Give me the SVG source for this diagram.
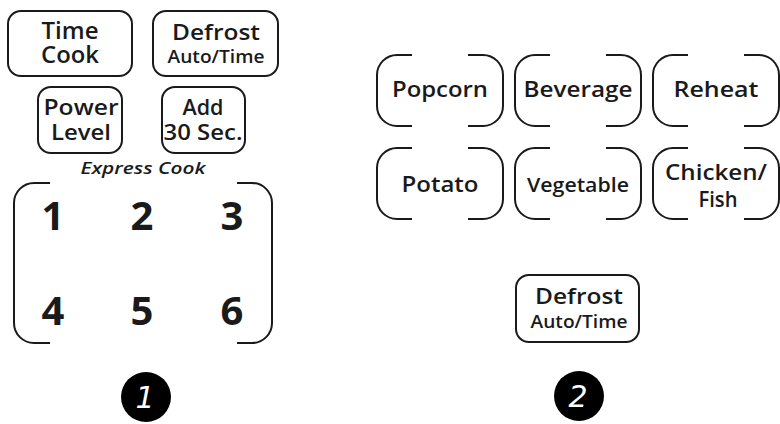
<svg xmlns="http://www.w3.org/2000/svg" xmlns:xlink="http://www.w3.org/1999/xlink" width="780" height="424" viewBox="0 0 780 424">
<style>
.b{fill:none;stroke:#1a1a1a;stroke-width:2;}
.t{font-family:"Open Sans","Noto Sans","DejaVu Sans",sans-serif;font-weight:600;fill:#1a1a1a;text-anchor:middle;}
.n{font-family:"Open Sans","Noto Sans","DejaVu Sans",sans-serif;font-weight:700;font-size:40px;fill:#1a1a1a;text-anchor:middle;}
.c{fill:#000;}
.w{font-family:"DejaVu Sans","Noto Sans",sans-serif;font-style:italic;font-size:30px;fill:#fff;text-anchor:middle;}
</style>
<defs>
<path id="br" class="b" d="M35,0 H20 A20,20 0 0 0 0,20 V51 A20,20 0 0 0 20,71 H35 M91,0 H106 A20,20 0 0 1 126,20 V51 A20,20 0 0 1 106,71 H91"/>
</defs>
<rect width="780" height="424" fill="#fff"/>
<g id="time-cook"><rect class="b" x="8" y="11" width="124" height="65" rx="13"/>
<text class="t" x="70" y="39" font-size="23" textLength="57" lengthAdjust="spacingAndGlyphs">Time</text><text class="t" x="70" y="63" font-size="23" textLength="58" lengthAdjust="spacingAndGlyphs">Cook</text></g>
<g id="defrost-1"><rect class="b" x="153" y="11" width="125" height="65" rx="13"/>
<text class="t" x="216" y="40" font-size="22" textLength="88" lengthAdjust="spacingAndGlyphs">Defrost</text><text class="t" x="216" y="63" font-size="18" textLength="97" lengthAdjust="spacingAndGlyphs">Auto/Time</text></g>
<g id="power-level"><rect class="b" x="38" y="87" width="84" height="66" rx="13"/>
<text class="t" x="81" y="115" font-size="21" textLength="75" lengthAdjust="spacingAndGlyphs">Power</text><text class="t" x="81" y="140" font-size="21" textLength="60" lengthAdjust="spacingAndGlyphs">Level</text></g>
<g id="add-30"><rect class="b" x="162" y="87" width="83" height="66" rx="13"/>
<text class="t" x="203" y="115" font-size="21" textLength="41" lengthAdjust="spacingAndGlyphs">Add</text><text class="t" x="203" y="140" font-size="21" textLength="79" lengthAdjust="spacingAndGlyphs">30 Sec.</text></g>
<g id="express-cook"><text class="t" x="143" y="174" font-size="17" font-style="italic" font-weight="500" textLength="125" lengthAdjust="spacingAndGlyphs">Express Cook</text>
<path class="b" d="M50,183 H34 A20,20 0 0 0 14,203 V323 A20,20 0 0 0 34,343 H50 M237,183 H252 A20,20 0 0 1 272,203 V323 A20,20 0 0 1 252,343 H237"/>
<text class="n" x="53" y="230">1</text><text class="n" x="142" y="230">2</text><text class="n" x="232" y="230">3</text>
<text class="n" x="53" y="325">4</text><text class="n" x="142" y="325">5</text><text class="n" x="232" y="325">6</text></g>
<g id="popcorn"><use xlink:href="#br" x="377" y="55"/><text class="t" x="440" y="97" font-size="22" textLength="96" lengthAdjust="spacingAndGlyphs">Popcorn</text></g>
<g id="beverage"><use xlink:href="#br" x="515" y="55"/><text class="t" x="578" y="97" font-size="22" textLength="109" lengthAdjust="spacingAndGlyphs">Beverage</text></g>
<g id="reheat"><use xlink:href="#br" x="653" y="55"/><text class="t" x="716" y="97" font-size="22" textLength="85" lengthAdjust="spacingAndGlyphs">Reheat</text></g>
<g id="potato"><use xlink:href="#br" x="377" y="148"/><text class="t" x="440" y="192" font-size="22" textLength="77" lengthAdjust="spacingAndGlyphs">Potato</text></g>
<g id="vegetable"><use xlink:href="#br" x="515" y="148"/><text class="t" x="578" y="192" font-size="19" textLength="102" lengthAdjust="spacingAndGlyphs">Vegetable</text></g>
<g id="chicken-fish"><use xlink:href="#br" x="653" y="148"/><text class="t" x="716" y="180" font-size="22" textLength="102" lengthAdjust="spacingAndGlyphs">Chicken/</text><text class="t" x="718" y="207" font-size="22" textLength="39" lengthAdjust="spacingAndGlyphs">Fish</text></g>
<g id="defrost-2"><rect class="b" x="516" y="275" width="123" height="67" rx="13"/>
<text class="t" x="579" y="304" font-size="22" textLength="88" lengthAdjust="spacingAndGlyphs">Defrost</text><text class="t" x="579" y="328" font-size="18" textLength="97" lengthAdjust="spacingAndGlyphs">Auto/Time</text></g>
<g id="label-1"><circle class="c" cx="146" cy="397" r="25"/><text class="w" x="145" y="408">1</text></g>
<g id="label-2"><circle class="c" cx="579" cy="396" r="25"/><text class="w" x="578" y="407">2</text></g>
</svg>
